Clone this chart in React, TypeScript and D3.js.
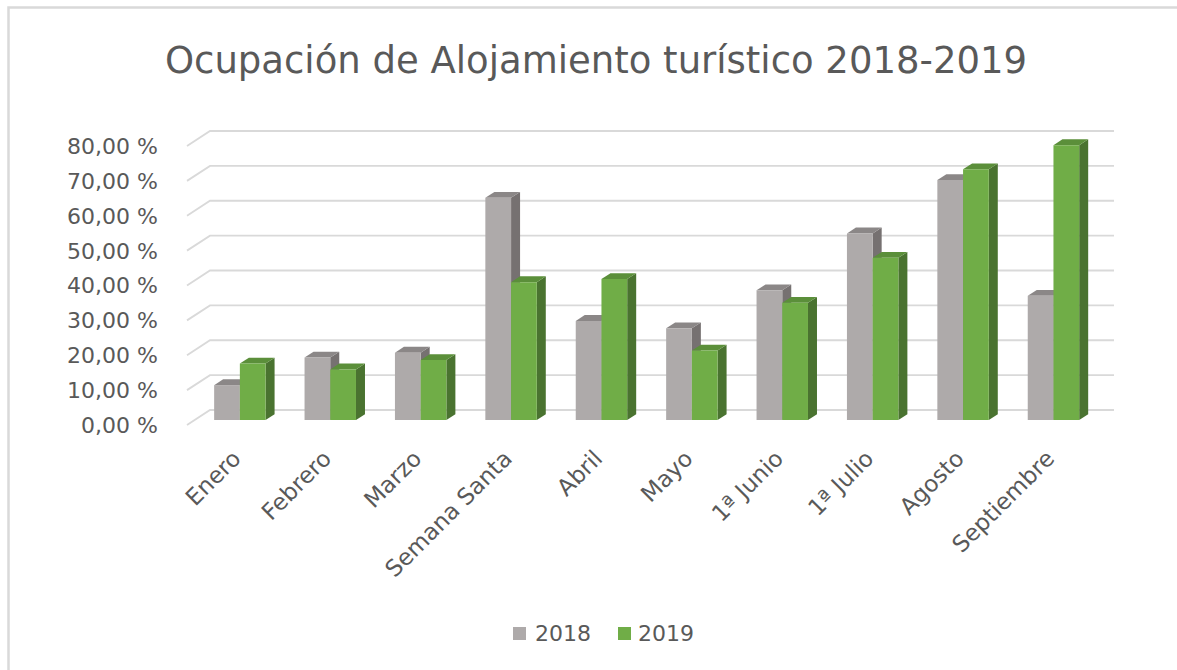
import React from "react";
import * as d3 from "d3";

const categories = ["Enero", "Febrero", "Marzo", "Semana Santa", "Abril", "Mayo", "1ª Junio", "1ª Julio", "Agosto", "Septiembre"];
const series = ["2018", "2019"];
const values2018 = [10.0, 17.9, 19.3, 63.7, 28.4, 26.3, 37.2, 53.5, 68.8, 35.6];
const values2019 = [16.2, 14.5, 17.2, 39.5, 40.4, 19.9, 33.6, 46.5, 71.9, 78.8];
const yTicks = [0, 10, 20, 30, 40, 50, 60, 70, 80];

const W = 1177;
const H = 670;
const FONT = "'DejaVu Sans', sans-serif";
const TEXT = "#595959";

const faceColors = {
  "2018": { front: "#aeaaaa", side: "#767171", top: "#8b8787" },
  "2019": { front: "#70ad47", side: "#4a7330", top: "#5b8f3a" },
};

// 3D projection: front-left floor corner, depth offsets
const ox = 187;
const oy = 425;
const depthX = 23;
const depthY = -15;
const plotW = 904;
const d1 = 1 / 3;
const d2 = 1 / 3 + 9 / 23;

const x = d3.scaleBand<string>().domain(categories).range([0, plotW]).paddingInner(0.431).paddingOuter(0.2155);
const xs = d3.scaleBand<string>().domain(series).range([0, x.bandwidth()]);
const y = d3.scaleLinear().domain([0, 80]).range([0, -279]);

function P(px: number, v: number, d: number): [number, number] {
  return [ox + depthX * d + px, oy + depthY * d + y(v)];
}
function poly(pts: [number, number][]) {
  return pts.map((p) => p.join(",")).join(" ");
}
const fmt = (t: number) => t.toFixed(2).replace(".", ",") + " %";

export default function App() {
  const data = categories.map((c, i) => ({ c, vals: { "2018": values2018[i], "2019": values2019[i] } as Record<string, number> }));
  return (
    <svg width={W} height={H} style={{ position: "absolute", left: 0, top: 0, background: "#fff" }}>
      <rect x={8.5} y={7.5} width={W + 20} height={H + 20} fill="#fff" stroke="#d9d9d9" strokeWidth={2.5} />
      <text x={596} y={73} textAnchor="middle" fontFamily={FONT} fontSize={37} fill={TEXT}>
        Ocupación de Alojamiento turístico 2018-2019
      </text>
      {yTicks.map((t) => {
        const a = P(0, t, 0);
        const b = P(0, t, 1);
        const c = P(plotW, t, 1);
        return (
          <g key={t}>
            <polyline points={poly([a, b, c])} fill="none" stroke="#d9d9d9" strokeWidth={1.8} />
            <text x={158} y={a[1]} dy="0.36em" textAnchor="end" fontFamily={FONT} fontSize={22} fill={TEXT}>
              {fmt(t)}
            </text>
          </g>
        );
      })}
      {data.map((row) => (
        <g key={row.c}>
          {series.map((s) => {
            const v = row.vals[s];
            const xl = (x(row.c) || 0) + (xs(s) || 0);
            const xr = xl + xs.bandwidth();
            const col = (faceColors as any)[s];
            const fl = P(xl, v, d1);
            const fr = P(xr, v, d1);
            const br = P(xr, v, d2);
            const bl = P(xl, v, d2);
            const fr0 = P(xr, 0, d1);
            const br0 = P(xr, 0, d2);
            const fl0 = P(xl, 0, d1);
            return (
              <g key={s}>
                <polygon points={poly([fr0, fr, br, br0])} fill={col.side} />
                <polygon points={poly([fl, fr, br, bl])} fill={col.top} />
                <polygon points={poly([fl0, fl, fr, fr0])} fill={col.front} />
              </g>
            );
          })}
        </g>
      ))}
      {categories.map((c) => {
        const cx = ox + (x(c) || 0) + x.bandwidth() / 2 + 10;
        return (
          <text key={c} transform={`translate(${cx},460) rotate(-45)`} textAnchor="end" fontFamily={FONT} fontSize={23} fill={TEXT}>
            {c}
          </text>
        );
      })}
      <g>
        <rect x={513} y={627} width={13} height={13} fill={faceColors["2018"].front} />
        <text x={535} y={641} fontFamily={FONT} fontSize={22} fill={TEXT}>2018</text>
        <rect x={618} y={627} width={13} height={13} fill={faceColors["2019"].front} />
        <text x={638} y={641} fontFamily={FONT} fontSize={22} fill={TEXT}>2019</text>
      </g>
    </svg>
  );
}
